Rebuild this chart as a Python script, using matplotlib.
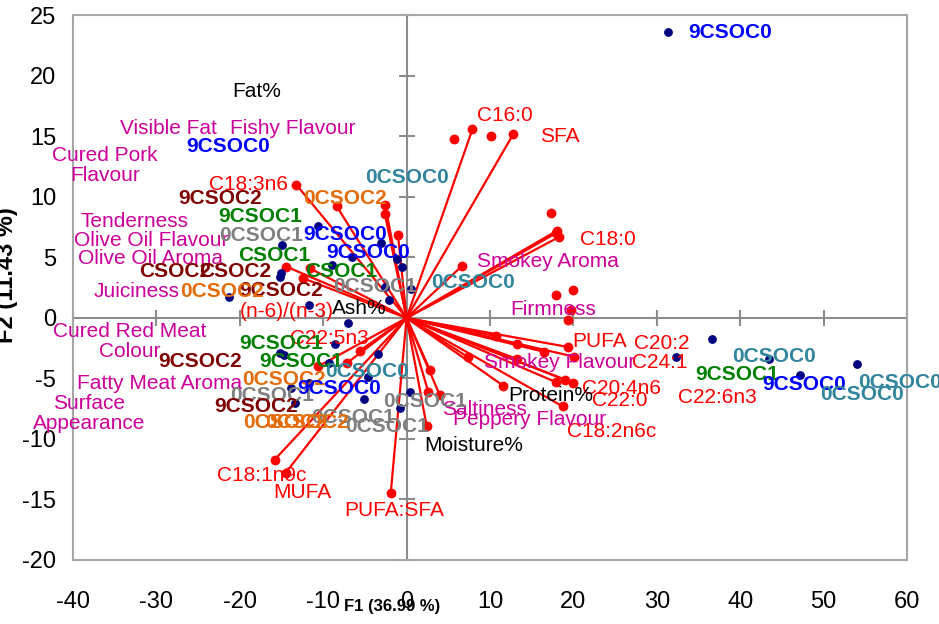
import matplotlib
matplotlib.use('Agg')
import matplotlib.pyplot as plt
import numpy as np

plt.rcParams['font.family'] = ['Liberation Sans', 'DejaVu Sans']
plt.rcParams['axes.unicode_minus'] = False

# observations (F1, F2 scores)
obs_x = [31.4, -10.6, -14.9, -3.1, -6.6, -1.1, -0.6, -15.2, -15.1, -8.9, -21.3, -11.7, -7.0,
         -2.1, 0.5, -2.6, -8.6, -15.2, -14.7, -3.4, -9.3, -4.6, -13.8, 0.4, -5.1, -13.4, -0.8,
         -11.7, 36.6, 32.3, 43.4, 47.2, 54.0]
obs_y = [23.6, 7.6, 6.0, 6.2, 5.0, 4.9, 4.2, 3.4, 3.7, 4.4, 1.7, 1.07, -0.44,
         1.5, 2.4, 2.6, -2.15, -2.9, -3.1, -3.0, -3.7, -4.85, -5.8, -6.1, -6.7, -7.0, -7.4,
         -5.4, -1.76, -3.25, -3.4, -4.7, -3.8]

# observation labels: text, x, y, group
obs_labels = [
    ('9CSOC0', 38.8, 23.6, '9CSOC0'), ('9CSOC0', -21.4, 14.2, '9CSOC0'),
    ('0CSOC0', 0.0, 11.6, '0CSOC0'), ('0CSOC2', -7.4, 9.9, '0CSOC2'),
    ('9CSOC2', -22.4, 9.9, '9CSOC2'), ('9CSOC1', -17.6, 8.4, '9CSOC1'),
    ('0CSOC1', -17.5, 6.85, '0CSOC1'), ('9CSOC0', -7.4, 6.9, '9CSOC0'),
    ('CSOC1', -15.9, 5.2, '9CSOC1'), ('9CSOC0', -4.6, 5.4, '9CSOC0'),
    ('CSOC2', -27.8, 3.8, '9CSOC2'), ('CSOC2', -20.5, 3.8, '9CSOC2'),
    ('CSOC1', -7.8, 3.8, '9CSOC1'), ('9CSOC2', -15.0, 2.3, '9CSOC2'),
    ('0CSOC2', -22.1, 2.2, '0CSOC2'), ('0CSOC1', -3.8, 2.6, '0CSOC1'),
    ('0CSOC0', 8.0, 2.9, '0CSOC0'),
    ('9CSOC1', -15.0, -2.1, '9CSOC1'), ('9CSOC2', -24.7, -3.6, '9CSOC2'),
    ('9CSOC1', -12.6, -3.6, '9CSOC1'), ('0CSOC0', -4.7, -4.4, '0CSOC0'),
    ('0CSOC1', -16.1, -6.4, '0CSOC1'), ('0CSOC2', -14.7, -5.1, '0CSOC2'),
    ('9CSOC0', -8.1, -5.8, '9CSOC0'), ('9CSOC2', -18.0, -7.3, '9CSOC2'),
    ('0CSOC1', -6.4, -8.2, '0CSOC1'), ('0CSOC1', -2.3, -9.0, '0CSOC1'),
    ('0CSOC1', 2.2, -6.9, '0CSOC1'), ('0CSOC2', -14.6, -8.6, '0CSOC2'),
    ('0CSOC2', -11.9, -8.6, '0CSOC2'),
    ('0CSOC0', 44.1, -3.2, '0CSOC0'), ('9CSOC1', 39.7, -4.7, '9CSOC1'),
    ('9CSOC0', 47.7, -5.5, '9CSOC0'), ('0CSOC0', 59.2, -5.3, '0CSOC0'),
    ('0CSOC0', 54.6, -6.3, '0CSOC0'),
]

# variable vectors (drawn from the origin)
vec_x = [7.9, 12.8, 18.0, 18.3, 17.9, 6.64,
         -13.2, -8.4, -2.55, -2.6, -1.03, -14.4, -12.4, -11.6,
         -15.8, -14.5, -1.9, -5.6, -7.2, -10.6, 2.8, 2.6, 4.0, 2.4,
         19.4, 20.1, 16.5, 13.2, 10.7, 13.3, 7.4, 17.9, 19.0, 19.9, 11.6, 18.7]
vec_y = [15.6, 15.2, 7.2, 6.7, 7.0, 4.3,
         11.0, 9.26, 9.3, 8.57, 6.86, 4.24, 3.28, 4.1,
         -11.7, -12.8, -14.5, -2.7, -3.75, -4.0, -4.3, -6.1, -6.4, -8.9,
         -2.4, -3.2, -2.8, -2.15, -1.5, -3.4, -3.25, -5.3, -5.1, -5.35, -5.6, -7.3]

# variable points without a vector
pt_x = [5.7, 10.1, 17.3, 17.9, 19.9, 19.7, 19.4]
pt_y = [14.8, 15.0, 8.7, 1.9, 2.3, 0.7, -0.17]

fa_labels = [
    ('C16:0', 11.8, 16.7), ('SFA', 18.4, 15.0), ('C18:0', 24.1, 6.5),
    ('C18:3n6', -19.0, 11.0), ('(n-6)/(n-3)', -14.4, 0.52), ('C22:5n3', -9.2, -1.7),
    ('PUFA', 23.1, -1.96), ('C20:2', 30.6, -2.1), ('C24:1', 30.4, -3.7),
    ('C20:4n6', 25.8, -5.8), ('C22:0', 25.6, -6.8), ('C22:6n3', 37.3, -6.6),
    ('C18:2n6c', 24.6, -9.4), ('C18:1n9c', -17.4, -13.0), ('MUFA', -12.5, -14.4),
    ('PUFA:SFA', -1.5, -15.9),
]
sensory_labels = [
    ('Visible Fat', -28.6, 15.7), ('Fishy Flavour', -13.6, 15.7),
    ('Cured Pork\nFlavour', -36.2, 12.6), ('Tenderness', -32.6, 8.0),
    ('Olive Oil Flavour', -30.6, 6.4), ('Olive Oil Aroma', -30.7, 4.95),
    ('Juiciness', -32.4, 2.2), ('Cured Red Meat\nColour', -33.2, -1.95),
    ('Fatty Meat Aroma', -29.6, -5.4), ('Surface\nAppearance', -38.1, -7.9),
    ('Smokey Aroma', 17.0, 4.65), ('Firmness', 17.6, 0.74),
    ('Smokey Flavour', 18.4, -3.7), ('Saltiness', 9.4, -7.6),
    ('Peppery Flavour', 14.8, -8.4),
]
prox_labels = [
    ('Fat%', -18.0, 18.7), ('Ash%', -5.7, 0.8), ('Protein%', 17.3, -6.4),
    ('Moisture%', 8.0, -10.5),
]

xticks = list(range(-40, 61, 10))
yticks = list(range(-20, 26, 5))

group_colors = {
    '9CSOC0': '#0000FF', '0CSOC0': '#31859C', '9CSOC1': '#008000',
    '0CSOC1': '#808080', '9CSOC2': '#800000', '0CSOC2': '#E46C0A',
}

fig = plt.figure(figsize=(9.39, 6.24), dpi=100)
ax = fig.add_axes([0.0777, 0.1026, 0.8882, 0.8726])
ax.set_xlim(-40, 60)
ax.set_ylim(-20, 25)

for s in ax.spines.values():
    s.set_color('#A6A6A6')
    s.set_linewidth(1.5)

# axes through the origin, with cross ticks
ax.axhline(0, color='#8C8C8C', lw=1.5, zorder=1)
ax.axvline(0, color='#8C8C8C', lw=1.5, zorder=1)
ax.plot(xticks, [0] * len(xticks), ls='none', marker='|', ms=11, mew=1.5,
        color='#8C8C8C', zorder=1, clip_on=False)
ax.plot([0] * len(yticks), yticks, ls='none', marker='_', ms=11, mew=1.5,
        color='#8C8C8C', zorder=1, clip_on=False)

ax.set_xticks(xticks)
ax.set_yticks(yticks)
ax.tick_params(length=0, labelsize=17)
ax.tick_params(axis='x', pad=22)
ax.tick_params(axis='y', pad=12)

# variable vectors
for vx, vy in zip(vec_x, vec_y):
    ax.plot([0, vx], [0, vy], color='#FF0000', lw=1.6, zorder=2)
ax.scatter(vec_x, vec_y, s=50, color='#FF0000', zorder=3, linewidths=0)
ax.scatter(pt_x, pt_y, s=50, color='#FF0000', zorder=3, linewidths=0)

# observations
ax.scatter(obs_x, obs_y, s=40, color='#000080', zorder=4, linewidths=0)

for t, x, y in fa_labels:
    ax.text(x, y, t, color='#FF0000', fontsize=15, ha='center', va='center', zorder=5)
for t, x, y in sensory_labels:
    ax.text(x, y, t, color='#CC0099', fontsize=15, ha='center', va='center',
            linespacing=1.1, zorder=5)
for t, x, y in prox_labels:
    ax.text(x, y, t, color='black', fontsize=15, ha='center', va='center', zorder=5)
for t, x, y, g in obs_labels:
    ax.text(x, y, t, color=group_colors[g], fontsize=15, fontweight='bold',
            ha='center', va='center', zorder=6)

ax.text(0.3825, -0.086, 'F1 (36.99 %)', transform=ax.transAxes, fontsize=12,
        fontweight='bold', ha='center', va='center')
ax.text(-0.08, 0.523, 'F2 (11.43 %)', transform=ax.transAxes, fontsize=17,
        fontweight='bold', ha='center', va='center', rotation=90)

fig.savefig('out.png', dpi=100)
